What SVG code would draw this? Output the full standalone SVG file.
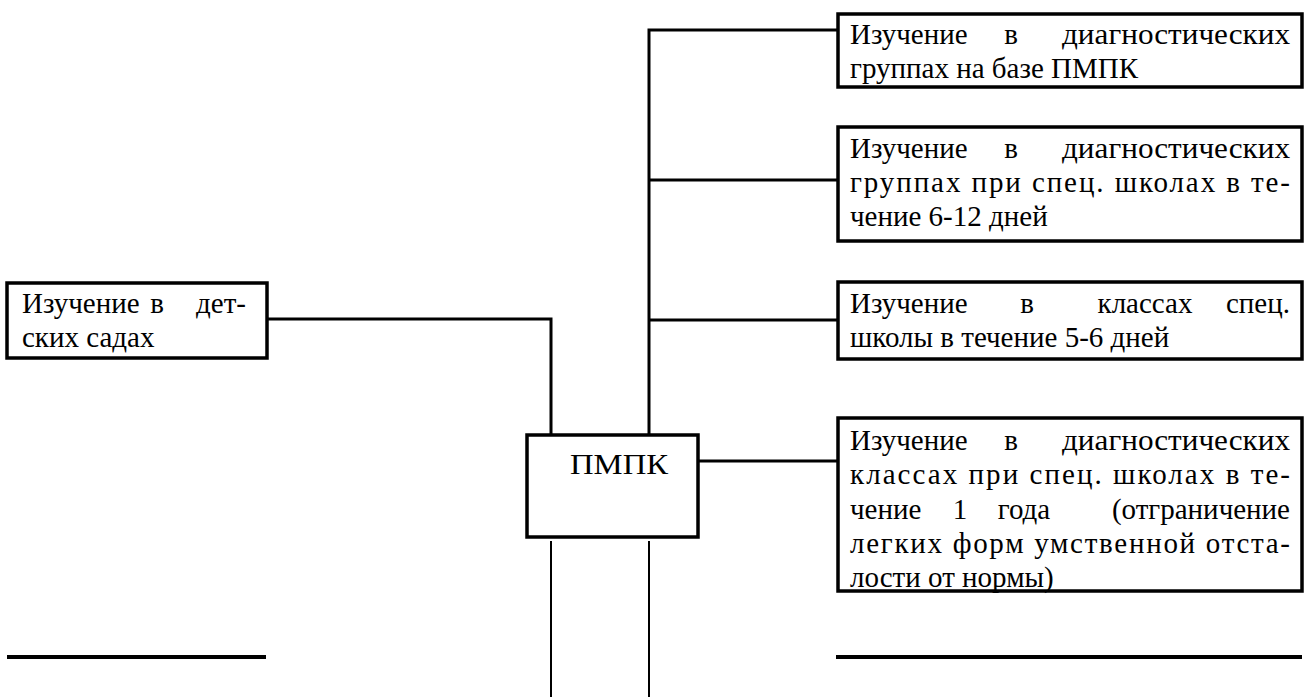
<svg xmlns="http://www.w3.org/2000/svg" width="1307" height="697" viewBox="0 0 1307 697">
<style>
.box{fill:#fff;stroke:#000;stroke-width:3.5}
.ln{fill:none;stroke:#000;stroke-width:3}
.thin{fill:none;stroke:#000;stroke-width:2}
.thick{fill:none;stroke:#000;stroke-width:4}
.t{font-family:'Liberation Serif', 'Times New Roman', serif;font-size:29px;fill:#000}
.m{text-anchor:middle}
.e{text-anchor:end}
</style>
<rect width="1307" height="697" fill="#fff"/>
<g id="connectors">
<polyline class="ln" points="838,30 649,30 649,437"/>
<line class="ln" x1="649" y1="180" x2="838" y2="180"/>
<line class="ln" x1="649" y1="320" x2="838" y2="320"/>
<polyline class="ln" points="267,319 551,319 551,437"/>
<line class="ln" x1="698" y1="461" x2="838" y2="461"/>
<line class="thin" x1="551" y1="541" x2="551" y2="697"/>
<line class="thin" x1="649" y1="541" x2="649" y2="697"/>
<line class="thick" x1="7" y1="657" x2="266" y2="657"/>
<line class="thick" x1="836" y1="657" x2="1302" y2="657"/>
</g>
<g id="node-kindergarten" class="t">
<rect class="box" x="7" y="283" width="260" height="75"/>
<text x="22" y="313">Изучение</text>
<text x="157" y="313" class="m">в</text>
<text x="246" y="313" class="e">дет-</text>
<text x="22" y="347">ских садах</text>
</g>
<g id="node-pmpk" class="t">
<rect class="box" x="527" y="435" width="171" height="102"/>
<text x="570" y="474" textLength="98" lengthAdjust="spacingAndGlyphs">ПМПК</text>
</g>
<g id="node-groups-pmpk" class="t">
<rect class="box" x="838" y="14" width="464" height="73"/>
<text x="850" y="44">Изучение</text>
<text x="1011" y="44" class="m">в</text>
<text x="1062" y="44" textLength="228" lengthAdjust="spacingAndGlyphs">диагностических</text>
<text x="850" y="78">группах на базе ПМПК</text>
</g>
<g id="node-groups-school" class="t">
<rect class="box" x="838" y="127" width="464" height="114"/>
<text x="850" y="158">Изучение</text>
<text x="1011" y="158" class="m">в</text>
<text x="1062" y="158" textLength="228" lengthAdjust="spacingAndGlyphs">диагностических</text>
<text x="850" y="192" textLength="440" lengthAdjust="spacing">группах при спец. школах в те-</text>
<text x="850" y="226">чение 6-12 дней</text>
</g>
<g id="node-classes" class="t">
<rect class="box" x="838" y="282" width="464" height="77"/>
<text x="850" y="313">Изучение</text>
<text x="1027" y="313" class="m">в</text>
<text x="1145" y="313" class="m">классах</text>
<text x="1290" y="313" class="e">спец.</text>
<text x="850" y="347">школы в течение 5-6 дней</text>
</g>
<g id="node-diag-classes" class="t">
<rect class="box" x="838" y="418" width="464" height="173"/>
<text x="850" y="450">Изучение</text>
<text x="1011" y="450" class="m">в</text>
<text x="1062" y="450" textLength="228" lengthAdjust="spacingAndGlyphs">диагностических</text>
<text x="850" y="484" textLength="440" lengthAdjust="spacing">классах при спец. школах в те-</text>
<text x="850" y="519">чение</text>
<text x="960" y="519" class="m">1</text>
<text x="1024" y="519" class="m">года</text>
<text x="1290" y="519" class="e">(отграничение</text>
<text x="850" y="553" textLength="440" lengthAdjust="spacing">легких форм умственной отста-</text>
<text x="850" y="587">лости от нормы)</text>
</g>
</svg>
